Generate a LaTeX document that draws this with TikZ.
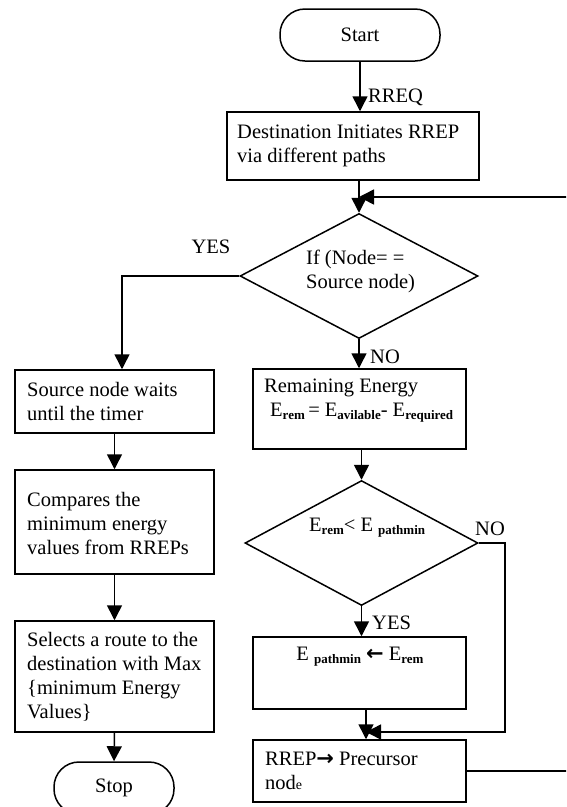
\documentclass[tikz,border=0pt]{standalone}
\usepackage{fontspec}
\setmainfont{Liberation Serif}
\newfontfamily\symfont{DejaVu Sans}
\usetikzlibrary{shapes.geometric,arrows.meta}
\newcommand\sbx[1]{\raisebox{-0.3ex}{\fontsize{13}{13}\selectfont\bfseries #1}}
\newcommand\arw[1]{{\symfont\bfseries\fontsize{21}{21}\selectfont #1}}
\begin{document}
\begin{tikzpicture}[x=1pt,y=-1pt,
  every node/.style={font=\fontsize{20.5}{24}\selectfont},
  box/.style={draw,line width=1.5pt,inner sep=0pt,rectangle},
  term/.style={draw,line width=1.5pt,inner sep=0pt,rectangle,rounded corners=25pt},
  dia/.style={draw,line width=1.5pt,inner sep=0pt,diamond},
  txt/.style={inner sep=0pt,align=left},
  lbl/.style={inner sep=0pt},
  arr/.style={line width=1.5pt,-{Triangle[length=15pt,width=15pt]}}
]
\useasboundingbox (0,0) rectangle (566,807);
\clip (0,0) rectangle (566,807);
% nodes
\node[term,minimum width=160pt,minimum height=52pt] (start) at (360,35) {Start};
\node[box,minimum width=252pt,minimum height=68pt] (dest) at (353,146) {};
\node[txt,anchor=west] (destt) at (237,146) {Destination Initiates RREP\\via different paths};
\node[dia,minimum width=238pt,minimum height=125pt] (d1) at (359,276) {};
\node[txt,anchor=west] (d1t) at (306,271.5) {If (Node= =\\Source node)};
\node[box,minimum width=199pt,minimum height=63pt] (src) at (114.5,401.5) {};
\node[txt,anchor=west] (srct) at (27,401.5) {Source node waits\\until the timer};
\node[box,minimum width=199pt,minimum height=104pt] (cmp) at (114.5,522) {};
\node[txt,anchor=west] (cmpt) at (27,523.5) {Compares the\\minimum energy\\values from RREPs};
\node[box,minimum width=199pt,minimum height=111pt] (sel) at (114.5,676.5) {};
\node[txt,anchor=west] (selt) at (27,676.5) {Selects a route to the\\destination with Max\\\{minimum Energy\\Values\}};
\node[term,minimum width=120pt,minimum height=52pt] (stop) at (114,788) {Stop};
\node[box,minimum width=213pt,minimum height=80pt] (rem) at (359.5,409) {};
\node[txt,anchor=west] (remt) at (264,401) {Remaining Energy\\\hspace{6pt}E\sbx{rem}\,= E\sbx{avilable}- E\sbx{required}};
\node[dia,minimum width=233pt,minimum height=125pt] (d2) at (361.5,543) {};
\node[txt,anchor=west] (d2t) at (309,528) {E\sbx{rem}< E \sbx{pathmin}};
\node[box,minimum width=213pt,minimum height=72pt] (ep) at (359.5,673) {};
\node[txt] (ept) at (360,657) {E \sbx{pathmin} \arw{←} E\sbx{rem}};
\node[box,minimum width=213pt,minimum height=62pt] (rrep) at (359.5,771) {};
\node[txt,anchor=west] (rrept) at (265,771) {RREP\arw{→} Precursor\\nod{\fontsize{14}{14}\selectfont e}};
% labels
\node[lbl,anchor=west] (lrreq) at (368,97) {RREQ};
\node[lbl] (lyes1) at (211,247) {YES};
\node[lbl,anchor=west] (lno1) at (370,357) {NO};
\node[lbl,anchor=west] (lno2) at (475,529) {NO};
\node[lbl,anchor=west] (lyes2) at (372,623) {YES};
% helper coordinates
\coordinate (join) at (359,197);
\coordinate (loopx) at (580,0);
\coordinate (yesx) at (122,0);
\coordinate (nox) at (505,0);
\coordinate (merge) at (366,732);
% connectors
\draw[arr] (start.south) -- (dest.north -| start.south);
\draw[arr] (dest.south -| d1.north) -- (d1.north);
\draw[arr] (rrep.east) -- (rrep.east -| loopx) -- (loopx |- join) -- (join);
\draw[arr] (d1.west) -- (yesx |- d1.west) -- (yesx |- src.north);
\draw[arr] (d1.south) -- (rem.north -| d1.south);
\draw[arr] (src.south) -- (cmp.north);
\draw[arr] (cmp.south) -- (sel.north);
\draw[arr] (sel.south) -- (stop.north);
\draw[arr] (rem.south -| d2.north) -- (d2.north);
\draw[arr] (d2.south) -- (ep.north -| d2.south);
\draw[arr] (ep.south -| merge) -- (rrep.north -| merge);
\draw[arr] (d2.east) -- (nox |- d2.east) -- (nox |- merge) -- (merge);
\end{tikzpicture}
\end{document}
